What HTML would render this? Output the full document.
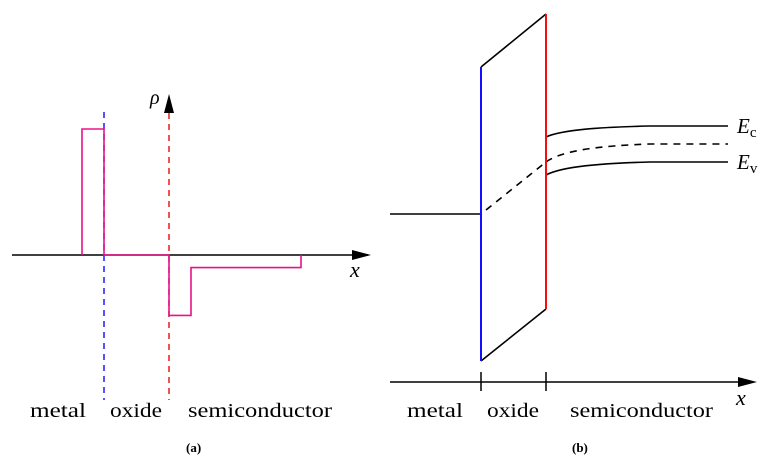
<!DOCTYPE html>
<html><head><meta charset="utf-8"><style>
body{margin:0;background:#fff;width:779px;height:468px;overflow:hidden}
text{font-family:"Liberation Serif",serif;fill:#000}
</style></head><body>
<svg id="s" width="779" height="468" viewBox="0 0 779 468" xmlns="http://www.w3.org/2000/svg">
<g>
<line x1="12" y1="255" x2="368" y2="255" stroke="#000" stroke-width="1.6"/>
<polygon points="352,250 371,255 352,260" fill="#000"/>
<line x1="104" y1="112" x2="104" y2="400" stroke="#1a1aff" stroke-width="1.5" stroke-dasharray="6,5"/>
<line x1="169" y1="113" x2="169" y2="400" stroke="#f01818" stroke-width="1.5" stroke-dasharray="6,5"/>
<polygon points="164,113 169,94 174,113" fill="#000"/>
<text x="150" y="104" font-size="20" font-style="italic">ρ</text>
<text x="350" y="277" font-size="22" font-style="italic">x</text>
<path id="rho" fill="none" stroke="#e8128c" stroke-width="1.6"/>
<text x="30" y="417" font-size="20" textLength="56" lengthAdjust="spacingAndGlyphs">metal</text>
<text x="110" y="417" font-size="20" textLength="52" lengthAdjust="spacingAndGlyphs">oxide</text>
<text x="188" y="417" font-size="20" textLength="144" lengthAdjust="spacingAndGlyphs">semiconductor</text>
<text x="186" y="452" font-size="13" font-weight="bold">(a)</text>
</g>
<g>
<line x1="390" y1="382" x2="742" y2="382" stroke="#000" stroke-width="1.6"/>
<polygon points="738,377 757,382 738,387" fill="#000"/>
<line x1="481" y1="372" x2="481" y2="391" stroke="#000" stroke-width="1.5"/>
<line x1="546" y1="372" x2="546" y2="391" stroke="#000" stroke-width="1.5"/>
<text x="736" y="405" font-size="22" font-style="italic">x</text>
<line x1="481" y1="67" x2="546" y2="14" stroke="#000" stroke-width="1.6"/>
<line x1="481" y1="361" x2="546" y2="309" stroke="#000" stroke-width="1.6"/>
<line x1="390" y1="214" x2="481" y2="214" stroke="#000" stroke-width="1.6"/>
<line x1="486" y1="210" x2="546" y2="162" stroke="#000" stroke-width="1.6" stroke-dasharray="7,6"/>
<path id="ef" fill="none" stroke="#000" stroke-width="1.6" stroke-dasharray="7,6"/>
<path id="ec" fill="none" stroke="#000" stroke-width="1.6"/>
<path id="ev" fill="none" stroke="#000" stroke-width="1.6"/>
<line x1="481" y1="67" x2="481" y2="361" stroke="#1010ff" stroke-width="2"/>
<line x1="546" y1="14" x2="546" y2="309" stroke="#f01010" stroke-width="2"/>
<text x="737" y="133" font-size="21" font-style="italic">E<tspan font-style="normal" font-size="15" dy="4">c</tspan></text>
<text x="737" y="169" font-size="21" font-style="italic">E<tspan font-style="normal" font-size="15" dy="4">v</tspan></text>
<text x="407" y="417" font-size="20" textLength="56" lengthAdjust="spacingAndGlyphs">metal</text>
<text x="487" y="417" font-size="20" textLength="52" lengthAdjust="spacingAndGlyphs">oxide</text>
<text x="570" y="417" font-size="20" textLength="143" lengthAdjust="spacingAndGlyphs">semiconductor</text>
<text x="572" y="452" font-size="13" font-weight="bold">(b)</text>
</g>
</svg>
<script>
// charge density steps: boundaries (x units) and rho values
const rhoEdges=[0,1,2,3,4,5];
const rhoValues=[1,0,-0.48,-0.1];
// band edge at interface and bulk
const bandNames=["ec","ef","ev"];
const bandSurface=[137,162,175];
const bandBulk=[126,144,162];
const xA=[82,104,169,191,301];
function yA(v){return 255-v*126;}
let d="M"+xA[0]+","+yA(0);
for(let i=0;i<rhoValues.length;i++){d+=" L"+xA[i]+","+yA(rhoValues[i])+" L"+xA[i+1]+","+yA(rhoValues[i]);}
d+=" L"+xA[4]+","+yA(0);
document.getElementById('rho').setAttribute('d',d);
for(let i=0;i<bandNames.length;i++){
 const s=bandSurface[i],b=bandBulk[i];
 const p="M546,"+s+" C562,"+(b+(s-b)*0.35)+" 600,"+(b+(s-b)*0.1)+" 650,"+b+" L728,"+b;
 document.getElementById(bandNames[i]).setAttribute('d',p);
}
</script>
</body></html>
